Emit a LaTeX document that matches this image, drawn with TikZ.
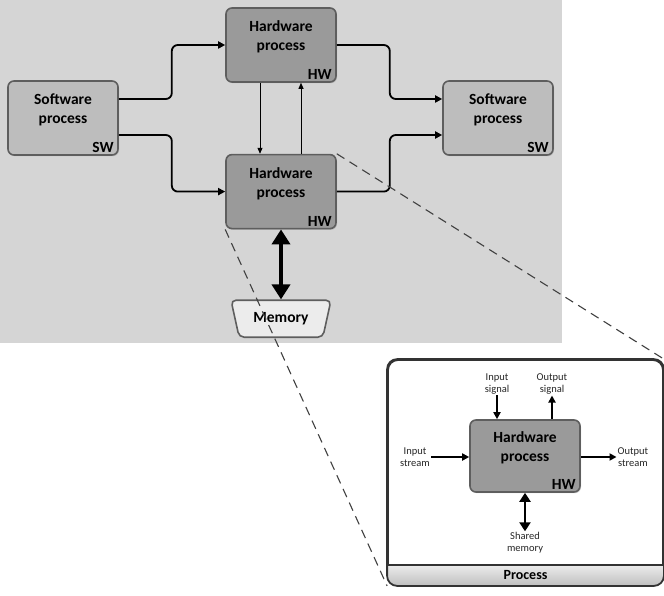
\documentclass[tikz,border=0pt]{standalone}
\usepackage{fontspec}
\setmainfont{Carlito}
\usetikzlibrary{arrows.meta,positioning,shapes.geometric,shadows,calc}

\definecolor{bggray}{HTML}{D5D5D5}
\definecolor{swfill}{HTML}{BDBDBD}
\definecolor{hwfill}{HTML}{9A9A9A}
\definecolor{edgegray}{HTML}{5E5E5E}
\definecolor{memfill}{HTML}{ECECEC}

\begin{document}
\begin{tikzpicture}[x=1pt,y=1pt,node distance=71pt,
   basebox/.style={draw=edgegray,line width=1.6pt,rounded corners=6pt,minimum width=110pt,
               minimum height=74pt,align=center,font=\fontsize{15.5}{19}\selectfont\bfseries,
               drop shadow={shadow xshift=1pt,shadow yshift=-1.2pt,opacity=.35}},
   swbox/.style={basebox,fill=swfill},
   hwbox/.style={basebox,fill=hwfill},
   memnode/.style={trapezium,trapezium left angle=67,trapezium right angle=67,
               shape border rotate=180,trapezium stretches body,minimum width=100pt,
               minimum height=37pt,draw=edgegray,line width=1.6pt,rounded corners=5pt,
               fill=memfill,font=\fontsize{15.5}{15.5}\selectfont\bfseries},
   tag/.style={anchor=south east,inner xsep=5pt,inner ysep=3pt,
               font=\fontsize{15.5}{15.5}\selectfont\bfseries},
   flow/.style={line width=1.8pt,rounded corners=6pt,-{Triangle[length=7pt,width=7pt]}},
   link/.style={line width=0.9pt,-{Triangle[length=6pt,width=5pt]}},
   memlink/.style={line width=4pt,{Triangle[length=15pt,width=18pt]}-{Triangle[length=15pt,width=18pt]}},
   iolink/.style={line width=1.8pt,-{Triangle[length=7pt,width=7pt]}},
   memio/.style={line width=2.6pt,{Triangle[length=9pt,width=11pt]}-{Triangle[length=9pt,width=11pt]}},
   zoomline/.style={dash pattern=on 9pt off 6pt,line width=1.1pt,draw=black!75},
   lbl/.style={font=\fontsize{10.5}{12}\selectfont,text=black!85,align=center,inner sep=1pt}]

  \fill[bggray] (0,0) rectangle (562,-343);
  \useasboundingbox (0,0) rectangle (664,-596);

  % system view
  \node[hwbox] (hwa) at (281,-45) {Hardware\\process\\\mbox{}};
  \node[hwbox,below=of hwa] (hwb) {Hardware\\process\\\mbox{}};
  \node[swbox] (swa) at (63,-118) {Software\\process\\\mbox{}};
  \node[swbox] (swb) at (498,-118) {Software\\process\\\mbox{}};
  \node[memnode,below=70pt of hwb] (mem) {Memory};
  \node[tag] (hwatag) at (hwa.south east) {HW};
  \node[tag] (hwbtag) at (hwb.south east) {HW};
  \node[tag] (swatag) at (swa.south east) {SW};
  \node[tag] (swbtag) at (swb.south east) {SW};

  \draw[flow] ([yshift=19pt]swa.east) -- ++(53pt,0) |- (hwa.west);
  \draw[flow] ([yshift=-17pt]swa.east) -- ++(53pt,0) |- (hwb.west);
  \draw[flow] (hwa.east) -- ++(53pt,0) |- ([yshift=19pt]swb.west);
  \draw[flow] (hwb.east) -- ++(53pt,0) |- ([yshift=-17pt]swb.west);
  \draw[link] ([xshift=-21pt]hwa.south) -- ([xshift=-21pt]hwb.north);
  \draw[link] ([xshift=20pt]hwb.north) -- ([xshift=20pt]hwa.south);
  \draw[memlink] (hwb.south) -- (mem.north);

  % zoomed process
  \node[draw=black!80,line width=1.8pt,fill=white,rounded corners=10pt,
        minimum width=275pt,minimum height=225pt] (proc) at (525.5,-472.5) {};
  \begin{scope}
    \clip[rounded corners=10pt] (proc.south west) rectangle (proc.north east);
    \shade[top color=gray!15,bottom color=gray!50] (proc.south west) rectangle ([yshift=21pt]proc.south east);
  \end{scope}
  \draw[line width=1.6pt,black!80] ([yshift=21pt]proc.south west) -- ([yshift=21pt]proc.south east);
  \draw[line width=1.8pt,black!80,rounded corners=10pt] (proc.south west) rectangle (proc.north east);
  \node[font=\fontsize{14}{14}\selectfont\bfseries] (proctitle) at ($(proc.south)+(0,10.5pt)$) {Process};

  \node[hwbox,minimum height=72pt] (phw) at (525,-456) {Hardware\\process\\\mbox{}};
  \node[tag] (phwtag) at (phw.south east) {HW};
  \node[lbl] (instr) at (415,-457) {Input\\stream};
  \node[lbl] (outstr) at (633,-457) {Output\\stream};
  \node[lbl] (insig) at (497,-384) {Input\\signal};
  \node[lbl] (outsig) at (552,-384) {Output\\signal};
  \node[lbl] (shmem) at (525,-543) {Shared\\memory};

  \draw[iolink] (instr.east) -- (instr.east -| phw.west);
  \draw[iolink] (phw.east |- outstr.west) -- (outstr.west);
  \draw[iolink] (insig.south) -- (insig.south |- phw.north);
  \draw[iolink] (outsig.south |- phw.north) -- (outsig.south);
  \draw[memio] (phw.south) -- (shmem.north);

  \draw[zoomline] (hwb.north east) -- (proc.north east);
  \draw[zoomline] (hwb.south west) -- (proc.south west);
\end{tikzpicture}
\end{document}
